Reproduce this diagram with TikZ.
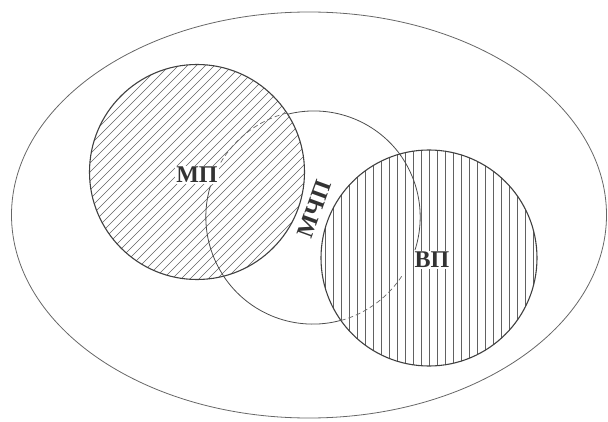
\documentclass[tikz,border=0pt]{standalone}
\usepackage{fontspec}
\setmainfont{Liberation Serif}
\begin{document}
\begin{tikzpicture}[x=1pt,y=1pt,
  rim/.style={draw=black!75,line width=1.1pt},
  hatch/.style={draw=black!62,line width=0.6pt},
  thinarc/.style={draw=black!70,line width=0.8pt},
  hidden/.style={draw=black!60,line width=0.7pt,dash pattern=on 5pt off 3pt},
  lbl/.style={font=\bfseries\fontsize{24}{24}\selectfont,text=black!80,inner sep=1pt}]
\useasboundingbox (0,0) rectangle (608,421);
% outer ellipse
\draw[draw=black!60,line width=0.8pt] (309,206) ellipse [x radius=297.5pt, y radius=203pt];
\coordinate (outer) at (309,206);
% MCHP circle (drawn as arcs)
\node[circle,minimum size=214pt,inner sep=0pt] (mchp) at (313,204) {};
% MP circle with diagonal hatching
\node[circle,minimum size=215pt,inner sep=0pt,rim,
  path picture={\foreach \i in {-260,-251,...,260}
     \draw[hatch,shift={(path picture bounding box.center)}] (\i-130,-130) -- (\i+130,130);}] (mp) at (197,249) {};
% VP circle with vertical hatching
\node[circle,minimum size=216pt,inner sep=0pt,rim,
  path picture={\foreach \i in {-112,-104,...,112}
     \draw[hatch,shift={(path picture bounding box.center)}] (\i,-115) -- (\i,115);}] (vp) at (429,163) {};
% MCHP arcs
\draw[thinarc] (mchp.35.7) arc[start angle=35.7, end angle=104, radius=107pt];
\draw[thinarc] (mchp.213) arc[start angle=213, end angle=285.4, radius=107pt];
\draw[hidden] (mchp.104) arc[start angle=104, end angle=150, radius=107pt];
\draw[thinarc] (mchp.163) arc[start angle=163, end angle=213, radius=107pt];
\draw[hidden] (mchp.285.4) arc[start angle=285.4, end angle=328, radius=107pt];
\draw[thinarc] (mchp.342) arc[start angle=342, end angle=395.7, radius=107pt];
% labels
\node[lbl,fill=white] (mpl) at (197,246) {МП};
\node[lbl,fill=white] (vpl) at (432,161) {ВП};
\node[lbl,rotate=70] (mchpl) at (314,212) {МЧП};
\end{tikzpicture}
\end{document}
